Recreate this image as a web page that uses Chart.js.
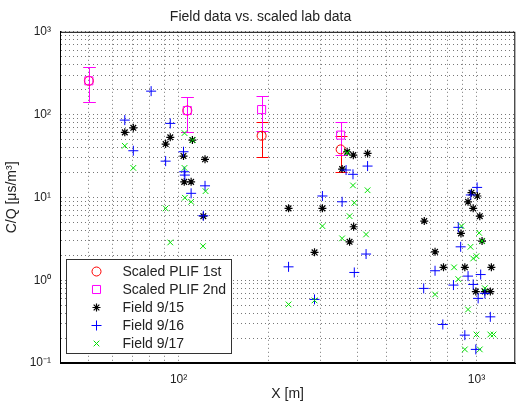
<!DOCTYPE html>
<html>
<head>
<meta charset="utf-8">
<script src="https://cdn.jsdelivr.net/npm/chart.js@4.4.0/dist/chart.umd.min.js"></script>
<style>
  html, body { margin: 0; padding: 0; background: #fff; }
</style>
</head>
<body>
<canvas id="chart" width="522" height="403"></canvas>
<script>
// --- dados ---
const plif1X = [50, 107, 190, 350];
const plif1Y = [256, 112, 55.5, 38];
const plif1Err = [115, 50, 25, 17.6];

const plif2X = [50, 107, 190, 350];
const plif2Y = [256, 112, 115, 56.5];
const plif2Err = [115, 50, 51, 24];

const field15X = [66, 70.5, 93.8, 90.5, 111.3, 103.9, 122.7, 104.5, 110.2, 121.1,
  234, 304, 286, 387, 375, 354, 368, 386, 431,
  668, 962, 1007, 937, 975, 1026, 887, 1044, 726, 775, 914, 1122, 995, 1067, 1113];
const field15Y = [61, 69.3, 53.1, 44, 49.2, 31.6, 28.8, 15.4, 15.4, 5.94,
  7.37, 7.37, 2.17, 4.42, 2.91, 22, 35.6, 32.4, 34,
  5.18, 11.4, 10.4, 8.85, 7.37, 5.94, 3.67, 2.97, 2.2, 1.43, 1.43, 1.43, 0.728, 0.728, 0.728];

const field16X = [66, 70.5, 80.9, 93.8, 90.5, 103.9, 104.5, 105, 110.2, 122.7, 121.1,
  234, 286, 304, 354, 365, 385, 431, 426, 389,
  1005, 957, 869, 885, 726, 665, 837, 937, 1033, 975, 1067, 1013, 1113, 771, 914, 995];
const field16Y = [85.8, 36.6, 192, 78.3, 27.4, 35.6, 20.4, 18.6, 11.2, 13.8, 6.0,
  1.45, 0.586, 10.4, 8.85, 21.4, 19, 23.9, 2.07, 1.24,
  13.2, 10.7, 4.35, 2.53, 1.3, 0.796, 0.873, 1.12, 1.17, 0.889, 0.694, 0.603, 0.361, 0.292, 0.217, 0.146];

const field17X = [66, 70.5, 104.7, 111.5, 104.7, 123.2, 105, 110.2, 90.5, 93.8, 120.8,
  234, 286, 304, 375, 389, 385, 431, 426, 354, 368,
  891, 1021, 1044, 955, 975, 1000, 841, 869, 726, 1067, 937, 1000, 1113, 1141, 914, 1026];
const field17Y = [42, 22.7, 59.8, 49.2, 22.7, 11.9, 9.9, 8.85, 7.37, 2.86, 2.58,
  0.51, 0.57, 4.5, 5.94, 8.6, 13.96, 12.2, 3.57, 3.2, 34.5,
  4.5, 3.73, 2.97, 2.53, 1.83, 1.95, 1.43, 1.03, 0.673, 0.8, 0.443, 0.221, 0.221, 0.221, 0.146, 0.146];

const xMajorTicks = [100, 1000];
const xTickLabels = ['10²', '10³'];
const yMajorTicks = [0.1, 1, 10, 100, 1000];
const yTickLabels = ['10⁻¹', '10⁰', '10¹', '10²', '10³'];

const xMin = 40, xMax = 1350;
const yMin = 0.1, yMax = 1000;

// grade menor (2..9 x 10^k) dentro dos limites
function gradeLog(min, max) {
  const vals = [];
  for (let e = Math.floor(Math.log10(min)); e <= Math.ceil(Math.log10(max)); e++) {
    for (let m = 1; m <= 9; m++) {
      const v = +(m * Math.pow(10, e)).toPrecision(6);
      if (v >= min && v <= max) vals.push(v);
    }
  }
  return vals;
}

const pontos = (xs, ys) => xs.map((x, i) => ({ x: x, y: ys[i] }));
const FONTE = '"Liberation Sans", Arial, Helvetica, sans-serif';

// barras de erro (simétricas, em escala linear)
const errorBars = {
  id: 'errorBars',
  beforeDatasetsDraw(chart) {
    const { ctx, scales: { x, y } } = chart;
    chart.data.datasets.forEach(ds => {
      if (!ds.errors) return;
      ctx.save();
      ctx.strokeStyle = ds.borderColor;
      ctx.lineWidth = 1;
      ds.data.forEach((p, i) => {
        const e = ds.errors[i];
        const px = Math.round(x.getPixelForValue(p.x)) + 0.5;
        const yt = Math.round(y.getPixelForValue(p.y + e)) + 0.5;
        const yb = Math.round(y.getPixelForValue(Math.max(p.y - e, 1e-4))) + 0.5;
        ctx.beginPath();
        ctx.moveTo(px, yt); ctx.lineTo(px, yb);
        ctx.moveTo(px - 6, yt); ctx.lineTo(px + 6, yt);
        ctx.moveTo(px - 6, yb); ctx.lineTo(px + 6, yb);
        ctx.stroke();
      });
      ctx.restore();
    });
  }
};

function desenhaMarcador(ctx, ds, cx, cy) {
  const opts = { pointStyle: ds.pointStyle, rotation: 0, radius: ds.pointRadius, borderWidth: ds.pointBorderWidth };
  ctx.strokeStyle = ds.borderColor;
  ctx.fillStyle = 'rgba(0,0,0,0)';
  ctx.lineWidth = ds.pointBorderWidth;
  Chart.helpers.drawPoint(ctx, opts, cx, cy);
}

// moldura + legenda no estilo MATLAB
const moldura = {
  id: 'moldura',
  afterDraw(chart) {
    const { ctx, chartArea: a } = chart;
    ctx.save();
    ctx.strokeStyle = '#000';
    ctx.lineWidth = 1;
    ctx.strokeRect(a.left + 0.5, a.top + 0.5, a.right - a.left - 1, a.bottom - a.top - 1);

    const lw = 165, lh = 94;
    const lx = Math.round(a.left) + 6.5, ly = Math.round(a.bottom) - 9.5 - lh;
    ctx.fillStyle = '#fff';
    ctx.fillRect(lx, ly, lw, lh);
    ctx.strokeStyle = '#333';
    ctx.strokeRect(lx, ly, lw, lh);
    ctx.font = '14px ' + FONTE;
    ctx.textBaseline = 'middle';
    chart.data.datasets.forEach((ds, i) => {
      const cy = ly + 12 + i * 18;
      ctx.save();
      desenhaMarcador(ctx, ds, lx + 30, cy);
      ctx.restore();
      ctx.fillStyle = '#222';
      ctx.fillText(ds.label, lx + 56, cy + 1);
    });
    ctx.restore();
  }
};

const ctx = document.getElementById('chart').getContext('2d');
new Chart(ctx, {
  type: 'scatter',
  data: {
    datasets: [
      { label: 'Scaled PLIF 1st', data: pontos(plif1X, plif1Y), errors: plif1Err, order: 5,
        pointStyle: 'circle', pointRadius: 4.5, borderColor: '#ff0000', backgroundColor: 'rgba(0,0,0,0)', pointBorderWidth: 1 },
      { label: 'Scaled PLIF 2nd', data: pontos(plif2X, plif2Y), errors: plif2Err, order: 4,
        pointStyle: 'rect', pointRadius: 5.7, borderColor: '#ff00ff', backgroundColor: 'rgba(0,0,0,0)', pointBorderWidth: 1 },
      { label: 'Field 9/15', data: pontos(field15X, field15Y), order: 3,
        pointStyle: 'star', pointRadius: 4, borderColor: '#000000', backgroundColor: 'rgba(0,0,0,0)', pointBorderWidth: 1.2 },
      { label: 'Field 9/16', data: pontos(field16X, field16Y), order: 2,
        pointStyle: 'cross', pointRadius: 5, borderColor: '#0000ff', backgroundColor: 'rgba(0,0,0,0)', pointBorderWidth: 1 },
      { label: 'Field 9/17', data: pontos(field17X, field17Y), order: 1,
        pointStyle: 'crossRot', pointRadius: 4, borderColor: '#00e000', backgroundColor: 'rgba(0,0,0,0)', pointBorderWidth: 1 }
    ]
  },
  options: {
    responsive: false,
    animation: false,
    devicePixelRatio: 1,
    layout: { padding: { left: 0, right: 1, top: 0, bottom: 0 } },
    plugins: {
      legend: { display: false },
      tooltip: { enabled: false },
      title: {
        display: true,
        text: 'Field data vs. scaled lab data',
        color: '#222',
        font: { family: FONTE, size: 14, weight: 'normal' },
        padding: { top: 9, bottom: 6 }
      }
    },
    scales: {
      x: {
        type: 'logarithmic',
        min: xMin, max: xMax,
        afterBuildTicks: (axis) => { axis.ticks = gradeLog(xMin, xMax).map(v => ({ value: v })); },
        afterFit: (axis) => { axis.height = 40; },
        ticks: {
          autoSkip: false, maxRotation: 0, padding: 9, color: '#222',
          font: { family: FONTE, size: 12 },
          callback: (v) => { const i = xMajorTicks.indexOf(v); return i >= 0 ? xTickLabels[i] : ''; }
        },
        grid: { color: '#777', lineWidth: 1, drawTicks: false },
        border: { display: true, color: '#000', dash: [1, 3] },
        title: { display: true, text: 'X [m]', color: '#222', font: { family: FONTE, size: 14 }, padding: { top: 0, bottom: 0 } }
      },
      y: {
        type: 'logarithmic',
        min: yMin, max: yMax,
        afterBuildTicks: (axis) => { axis.ticks = gradeLog(yMin, yMax).map(v => ({ value: v })); },
        afterFit: (axis) => { axis.width = 60; },
        ticks: {
          autoSkip: false, padding: 9, color: '#222',
          font: { family: FONTE, size: 12 },
          callback: (v) => { const i = yMajorTicks.indexOf(v); return i >= 0 ? yTickLabels[i] : ''; }
        },
        grid: { color: '#777', lineWidth: 1, drawTicks: false },
        border: { display: true, color: '#000', dash: [1, 3] },
        title: { display: true, text: 'C/Q [μs/m³]', color: '#222', font: { family: FONTE, size: 14 }, padding: { top: 4, bottom: 0 } }
      }
    }
  },
  plugins: [errorBars, moldura]
});
</script>
</body>
</html>
